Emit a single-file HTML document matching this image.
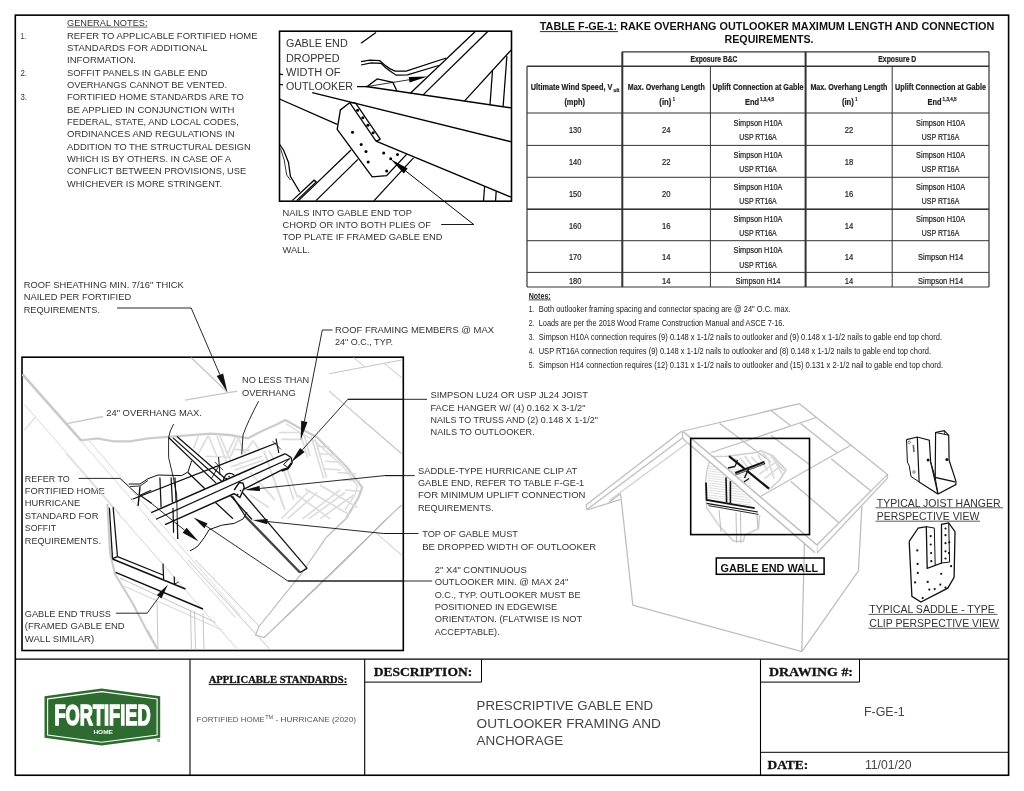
<!DOCTYPE html>
<html><head><meta charset="utf-8"><title>F-GE-1</title>
<style>
html,body{margin:0;padding:0;background:#fff;}
body{width:1024px;height:791px;overflow:hidden;font-family:"Liberation Sans",sans-serif;}
svg{display:block;will-change:transform;}
</style></head><body>
<svg width="1024" height="791" viewBox="0 0 1024 791">
<rect x="0" y="0" width="1024" height="791" fill="#fff"/>
<rect x="15.3" y="15.15" width="993.3" height="760.1" stroke="#000" stroke-width="1.6" fill="none"/>
<line x1="15.2" y1="659.2" x2="1008.6" y2="659.2" stroke="#000" stroke-width="1.2" />
<rect x="279.5" y="31.2" width="232" height="170" stroke="#000" stroke-width="1.6" fill="none"/>
<rect x="22" y="357.2" width="381.3" height="293.3" stroke="#000" stroke-width="1.6" fill="none"/>
<text x="67" y="26.3" font-family="Liberation Sans" font-size="9.2" font-weight="normal" fill="#333" text-anchor="start" textLength="80.5" lengthAdjust="spacingAndGlyphs" >GENERAL NOTES:</text>
<line x1="67" y1="27.1" x2="147.5" y2="27.1" stroke="#333" stroke-width="0.7" />
<text x="67" y="38.8" font-family="Liberation Sans" font-size="9.2" font-weight="normal" fill="#333" text-anchor="start" textLength="190.5" lengthAdjust="spacingAndGlyphs" >REFER TO APPLICABLE FORTIFIED HOME</text>
<text x="67" y="51.1" font-family="Liberation Sans" font-size="9.2" font-weight="normal" fill="#333" text-anchor="start" textLength="140.5" lengthAdjust="spacingAndGlyphs" >STANDARDS FOR ADDITIONAL</text>
<text x="67" y="63.4" font-family="Liberation Sans" font-size="9.2" font-weight="normal" fill="#333" text-anchor="start" textLength="69.0" lengthAdjust="spacingAndGlyphs" >INFORMATION.</text>
<text x="67" y="75.8" font-family="Liberation Sans" font-size="9.2" font-weight="normal" fill="#333" text-anchor="start" textLength="140.5" lengthAdjust="spacingAndGlyphs" >SOFFIT PANELS IN GABLE END</text>
<text x="67" y="88.1" font-family="Liberation Sans" font-size="9.2" font-weight="normal" fill="#333" text-anchor="start" textLength="160.0" lengthAdjust="spacingAndGlyphs" >OVERHANGS CANNOT BE VENTED.</text>
<text x="67" y="100.4" font-family="Liberation Sans" font-size="9.2" font-weight="normal" fill="#333" text-anchor="start" textLength="176.8" lengthAdjust="spacingAndGlyphs" >FORTIFIED HOME STANDARDS ARE TO</text>
<text x="67" y="112.8" font-family="Liberation Sans" font-size="9.2" font-weight="normal" fill="#333" text-anchor="start" textLength="167.5" lengthAdjust="spacingAndGlyphs" >BE APPLIED IN CONJUNCTION WITH</text>
<text x="67" y="125.1" font-family="Liberation Sans" font-size="9.2" font-weight="normal" fill="#333" text-anchor="start" textLength="171.8" lengthAdjust="spacingAndGlyphs" >FEDERAL, STATE, AND LOCAL CODES,</text>
<text x="67" y="137.4" font-family="Liberation Sans" font-size="9.2" font-weight="normal" fill="#333" text-anchor="start" textLength="167.5" lengthAdjust="spacingAndGlyphs" >ORDINANCES AND REGULATIONS IN</text>
<text x="67" y="149.8" font-family="Liberation Sans" font-size="9.2" font-weight="normal" fill="#333" text-anchor="start" textLength="183.8" lengthAdjust="spacingAndGlyphs" >ADDITION TO THE STRUCTURAL DESIGN</text>
<text x="67" y="162.1" font-family="Liberation Sans" font-size="9.2" font-weight="normal" fill="#333" text-anchor="start" textLength="164.2" lengthAdjust="spacingAndGlyphs" >WHICH IS BY OTHERS. IN CASE OF A</text>
<text x="67" y="174.4" font-family="Liberation Sans" font-size="9.2" font-weight="normal" fill="#333" text-anchor="start" textLength="179.2" lengthAdjust="spacingAndGlyphs" >CONFLICT BETWEEN PROVISIONS, USE</text>
<text x="67" y="186.7" font-family="Liberation Sans" font-size="9.2" font-weight="normal" fill="#333" text-anchor="start" textLength="155.0" lengthAdjust="spacingAndGlyphs" >WHICHEVER IS MORE STRINGENT.</text>
<text x="20.5" y="38.8" font-family="Liberation Sans" font-size="9.2" font-weight="normal" fill="#333" text-anchor="start" textLength="5.5" lengthAdjust="spacingAndGlyphs" >1.</text>
<text x="20.5" y="75.8" font-family="Liberation Sans" font-size="9.2" font-weight="normal" fill="#333" text-anchor="start" textLength="6.5" lengthAdjust="spacingAndGlyphs" >2.</text>
<text x="20.5" y="100.4" font-family="Liberation Sans" font-size="9.2" font-weight="normal" fill="#333" text-anchor="start" textLength="6.5" lengthAdjust="spacingAndGlyphs" >3.</text>
<text x="286" y="47.2" font-family="Liberation Sans" font-size="10" font-weight="normal" fill="#333" text-anchor="start" textLength="61.7" lengthAdjust="spacingAndGlyphs" >GABLE END</text>
<text x="286" y="61.5" font-family="Liberation Sans" font-size="10" font-weight="normal" fill="#333" text-anchor="start" textLength="53.7" lengthAdjust="spacingAndGlyphs" >DROPPED</text>
<text x="286" y="75.7" font-family="Liberation Sans" font-size="10" font-weight="normal" fill="#333" text-anchor="start" textLength="54.5" lengthAdjust="spacingAndGlyphs" >WIDTH OF</text>
<text x="286" y="90.0" font-family="Liberation Sans" font-size="10" font-weight="normal" fill="#333" text-anchor="start" textLength="67.0" lengthAdjust="spacingAndGlyphs" >OUTLOOKER</text>
<text x="282.5" y="215.5" font-family="Liberation Sans" font-size="9.2" font-weight="normal" fill="#333" text-anchor="start" textLength="129.5" lengthAdjust="spacingAndGlyphs" >NAILS INTO GABLE END TOP</text>
<text x="282.5" y="227.9" font-family="Liberation Sans" font-size="9.2" font-weight="normal" fill="#333" text-anchor="start" textLength="148.5" lengthAdjust="spacingAndGlyphs" >CHORD OR INTO BOTH PLIES OF</text>
<text x="282.5" y="240.4" font-family="Liberation Sans" font-size="9.2" font-weight="normal" fill="#333" text-anchor="start" textLength="160.0" lengthAdjust="spacingAndGlyphs" >TOP PLATE IF FRAMED GABLE END</text>
<text x="282.5" y="252.8" font-family="Liberation Sans" font-size="9.2" font-weight="normal" fill="#333" text-anchor="start" textLength="27.5" lengthAdjust="spacingAndGlyphs" >WALL.</text>
<text x="23.7" y="287.5" font-family="Liberation Sans" font-size="9.2" font-weight="normal" fill="#333" text-anchor="start" textLength="160.0" lengthAdjust="spacingAndGlyphs" >ROOF SHEATHING MIN. 7/16" THICK</text>
<text x="23.7" y="300.0" font-family="Liberation Sans" font-size="9.2" font-weight="normal" fill="#333" text-anchor="start" textLength="107.5" lengthAdjust="spacingAndGlyphs" >NAILED PER FORTIFIED</text>
<text x="23.7" y="312.5" font-family="Liberation Sans" font-size="9.2" font-weight="normal" fill="#333" text-anchor="start" textLength="76.3" lengthAdjust="spacingAndGlyphs" >REQUIREMENTS.</text>
<text x="335" y="332.5" font-family="Liberation Sans" font-size="9.2" font-weight="normal" fill="#333" text-anchor="start" textLength="159.0" lengthAdjust="spacingAndGlyphs" >ROOF FRAMING MEMBERS @ MAX</text>
<text x="335" y="345.0" font-family="Liberation Sans" font-size="9.2" font-weight="normal" fill="#333" text-anchor="start" textLength="58.0" lengthAdjust="spacingAndGlyphs" >24" O.C., TYP.</text>
<text x="106.2" y="415.7" font-family="Liberation Sans" font-size="9.2" font-weight="normal" fill="#333" text-anchor="start" textLength="95.8" lengthAdjust="spacingAndGlyphs" >24" OVERHANG MAX.</text>
<text x="242" y="383.2" font-family="Liberation Sans" font-size="9.2" font-weight="normal" fill="#333" text-anchor="start" textLength="67.2" lengthAdjust="spacingAndGlyphs" >NO LESS THAN</text>
<text x="242" y="395.7" font-family="Liberation Sans" font-size="9.2" font-weight="normal" fill="#333" text-anchor="start" textLength="53.7" lengthAdjust="spacingAndGlyphs" >OVERHANG</text>
<text x="24.8" y="481.5" font-family="Liberation Sans" font-size="9.2" font-weight="normal" fill="#333" text-anchor="start" textLength="44.9" lengthAdjust="spacingAndGlyphs" >REFER TO</text>
<text x="24.8" y="493.9" font-family="Liberation Sans" font-size="9.2" font-weight="normal" fill="#333" text-anchor="start" textLength="79.9" lengthAdjust="spacingAndGlyphs" >FORTIFIED HOME</text>
<text x="24.8" y="506.3" font-family="Liberation Sans" font-size="9.2" font-weight="normal" fill="#333" text-anchor="start" textLength="55.4" lengthAdjust="spacingAndGlyphs" >HURRICANE</text>
<text x="24.8" y="518.7" font-family="Liberation Sans" font-size="9.2" font-weight="normal" fill="#333" text-anchor="start" textLength="73.7" lengthAdjust="spacingAndGlyphs" >STANDARD FOR</text>
<text x="24.8" y="531.1" font-family="Liberation Sans" font-size="9.2" font-weight="normal" fill="#333" text-anchor="start" textLength="31.2" lengthAdjust="spacingAndGlyphs" >SOFFIT</text>
<text x="24.8" y="543.5" font-family="Liberation Sans" font-size="9.2" font-weight="normal" fill="#333" text-anchor="start" textLength="76.2" lengthAdjust="spacingAndGlyphs" >REQUIREMENTS.</text>
<text x="24.8" y="616.6" font-family="Liberation Sans" font-size="9.2" font-weight="normal" fill="#333" text-anchor="start" textLength="86.2" lengthAdjust="spacingAndGlyphs" >GABLE END TRUSS</text>
<text x="24.8" y="629.1" font-family="Liberation Sans" font-size="9.2" font-weight="normal" fill="#333" text-anchor="start" textLength="99.9" lengthAdjust="spacingAndGlyphs" >(FRAMED GABLE END</text>
<text x="24.8" y="641.6" font-family="Liberation Sans" font-size="9.2" font-weight="normal" fill="#333" text-anchor="start" textLength="69.4" lengthAdjust="spacingAndGlyphs" >WALL SIMILAR)</text>
<text x="430.5" y="398.2" font-family="Liberation Sans" font-size="9.2" font-weight="normal" fill="#333" text-anchor="start" textLength="157.5" lengthAdjust="spacingAndGlyphs" >SIMPSON LU24 OR USP JL24 JOIST</text>
<text x="430.5" y="410.6" font-family="Liberation Sans" font-size="9.2" font-weight="normal" fill="#333" text-anchor="start" textLength="155.0" lengthAdjust="spacingAndGlyphs" >FACE HANGER W/ (4) 0.162 X 3-1/2"</text>
<text x="430.5" y="423.0" font-family="Liberation Sans" font-size="9.2" font-weight="normal" fill="#333" text-anchor="start" textLength="167.5" lengthAdjust="spacingAndGlyphs" >NAILS TO TRUSS AND (2) 0.148 X 1-1/2"</text>
<text x="430.5" y="435.4" font-family="Liberation Sans" font-size="9.2" font-weight="normal" fill="#333" text-anchor="start" textLength="104.2" lengthAdjust="spacingAndGlyphs" >NAILS TO OUTLOOKER.</text>
<text x="418" y="473.7" font-family="Liberation Sans" font-size="9.2" font-weight="normal" fill="#333" text-anchor="start" textLength="159.2" lengthAdjust="spacingAndGlyphs" >SADDLE-TYPE HURRICANE CLIP AT</text>
<text x="418" y="486.0" font-family="Liberation Sans" font-size="9.2" font-weight="normal" fill="#333" text-anchor="start" textLength="166.0" lengthAdjust="spacingAndGlyphs" >GABLE END, REFER TO TABLE F-GE-1</text>
<text x="418" y="498.3" font-family="Liberation Sans" font-size="9.2" font-weight="normal" fill="#333" text-anchor="start" textLength="167.5" lengthAdjust="spacingAndGlyphs" >FOR MINIMUM UPLIFT CONNECTION</text>
<text x="418" y="510.6" font-family="Liberation Sans" font-size="9.2" font-weight="normal" fill="#333" text-anchor="start" textLength="75.5" lengthAdjust="spacingAndGlyphs" >REQUIREMENTS.</text>
<text x="422.2" y="537" font-family="Liberation Sans" font-size="9.2" font-weight="normal" fill="#333" text-anchor="start" textLength="95.8" lengthAdjust="spacingAndGlyphs" >TOP OF GABLE MUST</text>
<text x="422.2" y="549.5" font-family="Liberation Sans" font-size="9.2" font-weight="normal" fill="#333" text-anchor="start" textLength="173.8" lengthAdjust="spacingAndGlyphs" >BE DROPPED WIDTH OF OUTLOOKER</text>
<text x="434.7" y="573.0" font-family="Liberation Sans" font-size="9.2" font-weight="normal" fill="#333" text-anchor="start" textLength="92.0" lengthAdjust="spacingAndGlyphs" >2" X4" CONTINUOUS</text>
<text x="434.7" y="585.4" font-family="Liberation Sans" font-size="9.2" font-weight="normal" fill="#333" text-anchor="start" textLength="133.8" lengthAdjust="spacingAndGlyphs" >OUTLOOKER MIN. @ MAX 24"</text>
<text x="434.7" y="597.7" font-family="Liberation Sans" font-size="9.2" font-weight="normal" fill="#333" text-anchor="start" textLength="145.8" lengthAdjust="spacingAndGlyphs" >O.C., TYP. OUTLOOKER MUST BE</text>
<text x="434.7" y="610.0" font-family="Liberation Sans" font-size="9.2" font-weight="normal" fill="#333" text-anchor="start" textLength="122.5" lengthAdjust="spacingAndGlyphs" >POSITIONED IN EDGEWISE</text>
<text x="434.7" y="622.4" font-family="Liberation Sans" font-size="9.2" font-weight="normal" fill="#333" text-anchor="start" textLength="147.5" lengthAdjust="spacingAndGlyphs" >ORIENTATON. (FLATWISE IS NOT</text>
<text x="434.7" y="634.8" font-family="Liberation Sans" font-size="9.2" font-weight="normal" fill="#333" text-anchor="start" textLength="65.0" lengthAdjust="spacingAndGlyphs" >ACCEPTABLE).</text>
<text x="876.8" y="506.7" font-family="Liberation Sans" font-size="10.3" font-weight="normal" fill="#333" text-anchor="start" textLength="123.7" lengthAdjust="spacingAndGlyphs" >TYPICAL JOIST HANGER</text>
<line x1="875.5" y1="507.8" x2="1003" y2="507.8" stroke="#333" stroke-width="0.8" />
<text x="876.8" y="520" font-family="Liberation Sans" font-size="10.3" font-weight="normal" fill="#333" text-anchor="start" textLength="102.5" lengthAdjust="spacingAndGlyphs" >PERSPECTIVE VIEW</text>
<line x1="875.5" y1="521.2" x2="980" y2="521.2" stroke="#333" stroke-width="0.8" />
<text x="869.3" y="613.3" font-family="Liberation Sans" font-size="10.3" font-weight="normal" fill="#333" text-anchor="start" textLength="125.6" lengthAdjust="spacingAndGlyphs" >TYPICAL SADDLE - TYPE</text>
<line x1="868.5" y1="614.4" x2="997.5" y2="614.4" stroke="#333" stroke-width="0.8" />
<text x="869.3" y="627.2" font-family="Liberation Sans" font-size="10.3" font-weight="normal" fill="#333" text-anchor="start" textLength="129.7" lengthAdjust="spacingAndGlyphs" >CLIP PERSPECTIVE VIEW</text>
<line x1="868.5" y1="628.3" x2="999.5" y2="628.3" stroke="#333" stroke-width="0.8" />
<text x="767" y="30" font-family="Liberation Sans" font-size="10.2" font-weight="bold" fill="#111" text-anchor="middle" textLength="454.5" lengthAdjust="spacingAndGlyphs" >TABLE F-GE-1: RAKE OVERHANG OUTLOOKER MAXIMUM LENGTH AND CONNECTION</text>
<line x1="540" y1="31.6" x2="618" y2="31.6" stroke="#111" stroke-width="0.9" />
<text x="769" y="43" font-family="Liberation Sans" font-size="10.2" font-weight="bold" fill="#111" text-anchor="middle" textLength="89.0" lengthAdjust="spacingAndGlyphs" >REQUIREMENTS.</text>
<line x1="622.3" y1="51.8" x2="989" y2="51.8" stroke="#333" stroke-width="1.2" />
<line x1="527" y1="66.2" x2="989" y2="66.2" stroke="#333" stroke-width="1.4" />
<line x1="527" y1="113" x2="989" y2="113" stroke="#333" stroke-width="1.0" />
<line x1="527" y1="145.4" x2="989" y2="145.4" stroke="#333" stroke-width="1.0" />
<line x1="527" y1="177.3" x2="989" y2="177.3" stroke="#333" stroke-width="1.0" />
<line x1="527" y1="209.3" x2="989" y2="209.3" stroke="#333" stroke-width="1.0" />
<line x1="527" y1="240.7" x2="989" y2="240.7" stroke="#333" stroke-width="1.0" />
<line x1="527" y1="272.4" x2="989" y2="272.4" stroke="#333" stroke-width="1.0" />
<line x1="527" y1="287" x2="989" y2="287" stroke="#333" stroke-width="1.0" />
<line x1="527" y1="209.3" x2="989" y2="209.3" stroke="#333" stroke-width="1.6" />
<line x1="527" y1="66.2" x2="527" y2="287" stroke="#333" stroke-width="1.2" />
<line x1="989" y1="51.8" x2="989" y2="287" stroke="#333" stroke-width="1.2" />
<line x1="622.3" y1="51.8" x2="622.3" y2="287" stroke="#333" stroke-width="2.0" />
<line x1="805.6" y1="51.8" x2="805.6" y2="287" stroke="#333" stroke-width="2.0" />
<line x1="710.4" y1="66.2" x2="710.4" y2="287" stroke="#333" stroke-width="1.0" />
<line x1="892.2" y1="66.2" x2="892.2" y2="287" stroke="#333" stroke-width="1.0" />
<text x="713.95" y="62" font-family="Liberation Sans" font-size="8.6" font-weight="bold" fill="#222" text-anchor="middle" textLength="47.0" lengthAdjust="spacingAndGlyphs" stroke="#222" stroke-width="0.2">Exposure B&amp;C</text>
<text x="897.3" y="62" font-family="Liberation Sans" font-size="8.6" font-weight="bold" fill="#222" text-anchor="middle" textLength="38.0" lengthAdjust="spacingAndGlyphs" stroke="#222" stroke-width="0.2">Exposure D</text>
<text x="571.5" y="89.5" font-family="Liberation Sans" font-size="8.6" font-weight="bold" fill="#222" text-anchor="middle" textLength="81.7" lengthAdjust="spacingAndGlyphs" stroke="#222" stroke-width="0.2">Ultimate Wind Speed, V</text>
<text x="616.5" y="91.5" font-family="Liberation Sans" font-size="5.5" font-weight="bold" fill="#222" text-anchor="middle" textLength="6.0" lengthAdjust="spacingAndGlyphs" stroke="#222" stroke-width="0.2">ult</text>
<text x="574.65" y="104.5" font-family="Liberation Sans" font-size="8.6" font-weight="bold" fill="#222" text-anchor="middle" textLength="20.5" lengthAdjust="spacingAndGlyphs" stroke="#222" stroke-width="0.2">(mph)</text>
<text x="666.3499999999999" y="89.5" font-family="Liberation Sans" font-size="8.6" font-weight="bold" fill="#222" text-anchor="middle" textLength="77.0" lengthAdjust="spacingAndGlyphs" stroke="#222" stroke-width="0.2">Max. Overhang Length</text>
<text x="665.3499999999999" y="104.5" font-family="Liberation Sans" font-size="8.6" font-weight="bold" fill="#222" text-anchor="middle" textLength="12.0" lengthAdjust="spacingAndGlyphs" stroke="#222" stroke-width="0.2">(in)</text>
<text x="673.8499999999999" y="100.5" font-family="Liberation Sans" font-size="5.5" font-weight="bold" fill="#222" text-anchor="middle" textLength="2.2" lengthAdjust="spacingAndGlyphs" stroke="#222" stroke-width="0.2">1</text>
<text x="848.9000000000001" y="89.5" font-family="Liberation Sans" font-size="8.6" font-weight="bold" fill="#222" text-anchor="middle" textLength="77.0" lengthAdjust="spacingAndGlyphs" stroke="#222" stroke-width="0.2">Max. Overhang Length</text>
<text x="847.9000000000001" y="104.5" font-family="Liberation Sans" font-size="8.6" font-weight="bold" fill="#222" text-anchor="middle" textLength="12.0" lengthAdjust="spacingAndGlyphs" stroke="#222" stroke-width="0.2">(in)</text>
<text x="856.4000000000001" y="100.5" font-family="Liberation Sans" font-size="5.5" font-weight="bold" fill="#222" text-anchor="middle" textLength="2.2" lengthAdjust="spacingAndGlyphs" stroke="#222" stroke-width="0.2">1</text>
<text x="758.0" y="89.5" font-family="Liberation Sans" font-size="8.6" font-weight="bold" fill="#222" text-anchor="middle" textLength="91.0" lengthAdjust="spacingAndGlyphs" stroke="#222" stroke-width="0.2">Uplift Connection at Gable</text>
<text x="752.0" y="104.5" font-family="Liberation Sans" font-size="8.6" font-weight="bold" fill="#222" text-anchor="middle" textLength="14.0" lengthAdjust="spacingAndGlyphs" stroke="#222" stroke-width="0.2">End</text>
<text x="767.0" y="100.5" font-family="Liberation Sans" font-size="5.5" font-weight="bold" fill="#222" text-anchor="middle" textLength="14.0" lengthAdjust="spacingAndGlyphs" stroke="#222" stroke-width="0.2">1,3,4,5</text>
<text x="940.6" y="89.5" font-family="Liberation Sans" font-size="8.6" font-weight="bold" fill="#222" text-anchor="middle" textLength="91.0" lengthAdjust="spacingAndGlyphs" stroke="#222" stroke-width="0.2">Uplift Connection at Gable</text>
<text x="934.6" y="104.5" font-family="Liberation Sans" font-size="8.6" font-weight="bold" fill="#222" text-anchor="middle" textLength="14.0" lengthAdjust="spacingAndGlyphs" stroke="#222" stroke-width="0.2">End</text>
<text x="949.6" y="100.5" font-family="Liberation Sans" font-size="5.5" font-weight="bold" fill="#222" text-anchor="middle" textLength="14.0" lengthAdjust="spacingAndGlyphs" stroke="#222" stroke-width="0.2">1,3,4,5</text>
<text x="575.15" y="133.1" font-family="Liberation Sans" font-size="8.6" font-weight="normal" fill="#222" text-anchor="middle" textLength="12.5" lengthAdjust="spacingAndGlyphs" stroke="#222" stroke-width="0.2">130</text>
<text x="666.3499999999999" y="133.1" font-family="Liberation Sans" font-size="8.6" font-weight="normal" fill="#222" text-anchor="middle" textLength="8.5" lengthAdjust="spacingAndGlyphs" stroke="#222" stroke-width="0.2">24</text>
<text x="848.9000000000001" y="133.1" font-family="Liberation Sans" font-size="8.6" font-weight="normal" fill="#222" text-anchor="middle" textLength="8.5" lengthAdjust="spacingAndGlyphs" stroke="#222" stroke-width="0.2">22</text>
<text x="758.0" y="126.1" font-family="Liberation Sans" font-size="8.6" font-weight="normal" fill="#222" text-anchor="middle" textLength="49.0" lengthAdjust="spacingAndGlyphs" stroke="#222" stroke-width="0.2">Simpson H10A</text>
<text x="758.0" y="140.29999999999998" font-family="Liberation Sans" font-size="8.6" font-weight="normal" fill="#222" text-anchor="middle" textLength="37.5" lengthAdjust="spacingAndGlyphs" stroke="#222" stroke-width="0.2">USP RT16A</text>
<text x="940.6" y="126.1" font-family="Liberation Sans" font-size="8.6" font-weight="normal" fill="#222" text-anchor="middle" textLength="49.0" lengthAdjust="spacingAndGlyphs" stroke="#222" stroke-width="0.2">Simpson H10A</text>
<text x="940.6" y="140.29999999999998" font-family="Liberation Sans" font-size="8.6" font-weight="normal" fill="#222" text-anchor="middle" textLength="37.5" lengthAdjust="spacingAndGlyphs" stroke="#222" stroke-width="0.2">USP RT16A</text>
<text x="575.15" y="165.25000000000003" font-family="Liberation Sans" font-size="8.6" font-weight="normal" fill="#222" text-anchor="middle" textLength="12.5" lengthAdjust="spacingAndGlyphs" stroke="#222" stroke-width="0.2">140</text>
<text x="666.3499999999999" y="165.25000000000003" font-family="Liberation Sans" font-size="8.6" font-weight="normal" fill="#222" text-anchor="middle" textLength="8.5" lengthAdjust="spacingAndGlyphs" stroke="#222" stroke-width="0.2">22</text>
<text x="848.9000000000001" y="165.25000000000003" font-family="Liberation Sans" font-size="8.6" font-weight="normal" fill="#222" text-anchor="middle" textLength="8.5" lengthAdjust="spacingAndGlyphs" stroke="#222" stroke-width="0.2">18</text>
<text x="758.0" y="158.25000000000003" font-family="Liberation Sans" font-size="8.6" font-weight="normal" fill="#222" text-anchor="middle" textLength="49.0" lengthAdjust="spacingAndGlyphs" stroke="#222" stroke-width="0.2">Simpson H10A</text>
<text x="758.0" y="172.45000000000002" font-family="Liberation Sans" font-size="8.6" font-weight="normal" fill="#222" text-anchor="middle" textLength="37.5" lengthAdjust="spacingAndGlyphs" stroke="#222" stroke-width="0.2">USP RT16A</text>
<text x="940.6" y="158.25000000000003" font-family="Liberation Sans" font-size="8.6" font-weight="normal" fill="#222" text-anchor="middle" textLength="49.0" lengthAdjust="spacingAndGlyphs" stroke="#222" stroke-width="0.2">Simpson H10A</text>
<text x="940.6" y="172.45000000000002" font-family="Liberation Sans" font-size="8.6" font-weight="normal" fill="#222" text-anchor="middle" textLength="37.5" lengthAdjust="spacingAndGlyphs" stroke="#222" stroke-width="0.2">USP RT16A</text>
<text x="575.15" y="197.20000000000002" font-family="Liberation Sans" font-size="8.6" font-weight="normal" fill="#222" text-anchor="middle" textLength="12.5" lengthAdjust="spacingAndGlyphs" stroke="#222" stroke-width="0.2">150</text>
<text x="666.3499999999999" y="197.20000000000002" font-family="Liberation Sans" font-size="8.6" font-weight="normal" fill="#222" text-anchor="middle" textLength="8.5" lengthAdjust="spacingAndGlyphs" stroke="#222" stroke-width="0.2">20</text>
<text x="848.9000000000001" y="197.20000000000002" font-family="Liberation Sans" font-size="8.6" font-weight="normal" fill="#222" text-anchor="middle" textLength="8.5" lengthAdjust="spacingAndGlyphs" stroke="#222" stroke-width="0.2">16</text>
<text x="758.0" y="190.20000000000002" font-family="Liberation Sans" font-size="8.6" font-weight="normal" fill="#222" text-anchor="middle" textLength="49.0" lengthAdjust="spacingAndGlyphs" stroke="#222" stroke-width="0.2">Simpson H10A</text>
<text x="758.0" y="204.4" font-family="Liberation Sans" font-size="8.6" font-weight="normal" fill="#222" text-anchor="middle" textLength="37.5" lengthAdjust="spacingAndGlyphs" stroke="#222" stroke-width="0.2">USP RT16A</text>
<text x="940.6" y="190.20000000000002" font-family="Liberation Sans" font-size="8.6" font-weight="normal" fill="#222" text-anchor="middle" textLength="49.0" lengthAdjust="spacingAndGlyphs" stroke="#222" stroke-width="0.2">Simpson H10A</text>
<text x="940.6" y="204.4" font-family="Liberation Sans" font-size="8.6" font-weight="normal" fill="#222" text-anchor="middle" textLength="37.5" lengthAdjust="spacingAndGlyphs" stroke="#222" stroke-width="0.2">USP RT16A</text>
<text x="575.15" y="228.9" font-family="Liberation Sans" font-size="8.6" font-weight="normal" fill="#222" text-anchor="middle" textLength="12.5" lengthAdjust="spacingAndGlyphs" stroke="#222" stroke-width="0.2">160</text>
<text x="666.3499999999999" y="228.9" font-family="Liberation Sans" font-size="8.6" font-weight="normal" fill="#222" text-anchor="middle" textLength="8.5" lengthAdjust="spacingAndGlyphs" stroke="#222" stroke-width="0.2">16</text>
<text x="848.9000000000001" y="228.9" font-family="Liberation Sans" font-size="8.6" font-weight="normal" fill="#222" text-anchor="middle" textLength="8.5" lengthAdjust="spacingAndGlyphs" stroke="#222" stroke-width="0.2">14</text>
<text x="758.0" y="221.9" font-family="Liberation Sans" font-size="8.6" font-weight="normal" fill="#222" text-anchor="middle" textLength="49.0" lengthAdjust="spacingAndGlyphs" stroke="#222" stroke-width="0.2">Simpson H10A</text>
<text x="758.0" y="236.1" font-family="Liberation Sans" font-size="8.6" font-weight="normal" fill="#222" text-anchor="middle" textLength="37.5" lengthAdjust="spacingAndGlyphs" stroke="#222" stroke-width="0.2">USP RT16A</text>
<text x="940.6" y="221.9" font-family="Liberation Sans" font-size="8.6" font-weight="normal" fill="#222" text-anchor="middle" textLength="49.0" lengthAdjust="spacingAndGlyphs" stroke="#222" stroke-width="0.2">Simpson H10A</text>
<text x="940.6" y="236.1" font-family="Liberation Sans" font-size="8.6" font-weight="normal" fill="#222" text-anchor="middle" textLength="37.5" lengthAdjust="spacingAndGlyphs" stroke="#222" stroke-width="0.2">USP RT16A</text>
<text x="575.15" y="260.44999999999993" font-family="Liberation Sans" font-size="8.6" font-weight="normal" fill="#222" text-anchor="middle" textLength="12.5" lengthAdjust="spacingAndGlyphs" stroke="#222" stroke-width="0.2">170</text>
<text x="666.3499999999999" y="260.44999999999993" font-family="Liberation Sans" font-size="8.6" font-weight="normal" fill="#222" text-anchor="middle" textLength="8.5" lengthAdjust="spacingAndGlyphs" stroke="#222" stroke-width="0.2">14</text>
<text x="848.9000000000001" y="260.44999999999993" font-family="Liberation Sans" font-size="8.6" font-weight="normal" fill="#222" text-anchor="middle" textLength="8.5" lengthAdjust="spacingAndGlyphs" stroke="#222" stroke-width="0.2">14</text>
<text x="758.0" y="253.44999999999993" font-family="Liberation Sans" font-size="8.6" font-weight="normal" fill="#222" text-anchor="middle" textLength="49.0" lengthAdjust="spacingAndGlyphs" stroke="#222" stroke-width="0.2">Simpson H10A</text>
<text x="758.0" y="267.6499999999999" font-family="Liberation Sans" font-size="8.6" font-weight="normal" fill="#222" text-anchor="middle" textLength="37.5" lengthAdjust="spacingAndGlyphs" stroke="#222" stroke-width="0.2">USP RT16A</text>
<text x="940.6" y="260.44999999999993" font-family="Liberation Sans" font-size="8.6" font-weight="normal" fill="#222" text-anchor="middle" textLength="45.0" lengthAdjust="spacingAndGlyphs" stroke="#222" stroke-width="0.2">Simpson H14</text>
<text x="575.15" y="283.59999999999997" font-family="Liberation Sans" font-size="8.6" font-weight="normal" fill="#222" text-anchor="middle" textLength="12.5" lengthAdjust="spacingAndGlyphs" stroke="#222" stroke-width="0.2">180</text>
<text x="666.3499999999999" y="283.59999999999997" font-family="Liberation Sans" font-size="8.6" font-weight="normal" fill="#222" text-anchor="middle" textLength="8.5" lengthAdjust="spacingAndGlyphs" stroke="#222" stroke-width="0.2">14</text>
<text x="848.9000000000001" y="283.59999999999997" font-family="Liberation Sans" font-size="8.6" font-weight="normal" fill="#222" text-anchor="middle" textLength="8.5" lengthAdjust="spacingAndGlyphs" stroke="#222" stroke-width="0.2">14</text>
<text x="758.0" y="283.59999999999997" font-family="Liberation Sans" font-size="8.6" font-weight="normal" fill="#222" text-anchor="middle" textLength="45.0" lengthAdjust="spacingAndGlyphs" stroke="#222" stroke-width="0.2">Simpson H14</text>
<text x="940.6" y="283.59999999999997" font-family="Liberation Sans" font-size="8.6" font-weight="normal" fill="#222" text-anchor="middle" textLength="45.0" lengthAdjust="spacingAndGlyphs" stroke="#222" stroke-width="0.2">Simpson H14</text>
<text x="528.7" y="298.5" font-family="Liberation Sans" font-size="8.6" font-weight="bold" fill="#222" text-anchor="start" textLength="22.0" lengthAdjust="spacingAndGlyphs" >Notes:</text>
<line x1="528.7" y1="299.9" x2="550.7" y2="299.9" stroke="#222" stroke-width="0.8" />
<text x="528.7" y="311.8" font-family="Liberation Sans" font-size="8.6" font-weight="normal" fill="#222" text-anchor="start" textLength="5.5" lengthAdjust="spacingAndGlyphs" >1.</text>
<text x="538.7" y="311.8" font-family="Liberation Sans" font-size="8.6" font-weight="normal" fill="#222" text-anchor="start" textLength="251.8" lengthAdjust="spacingAndGlyphs" >Both outlooker framing spacing and connector spacing are @ 24" O.C. max.</text>
<text x="528.7" y="325.9" font-family="Liberation Sans" font-size="8.6" font-weight="normal" fill="#222" text-anchor="start" textLength="5.5" lengthAdjust="spacingAndGlyphs" >2.</text>
<text x="538.7" y="325.9" font-family="Liberation Sans" font-size="8.6" font-weight="normal" fill="#222" text-anchor="start" textLength="245.8" lengthAdjust="spacingAndGlyphs" >Loads are per the 2018 Wood Frame Construction Manual and ASCE 7-16.</text>
<text x="528.7" y="339.9" font-family="Liberation Sans" font-size="8.6" font-weight="normal" fill="#222" text-anchor="start" textLength="5.5" lengthAdjust="spacingAndGlyphs" >3.</text>
<text x="538.7" y="339.9" font-family="Liberation Sans" font-size="8.6" font-weight="normal" fill="#222" text-anchor="start" textLength="403.3" lengthAdjust="spacingAndGlyphs" >Simpson H10A connection requires (9) 0.148 x 1-1/2 nails to outlooker and (9) 0.148 x 1-1/2 nails to gable end top chord.</text>
<text x="528.7" y="354.0" font-family="Liberation Sans" font-size="8.6" font-weight="normal" fill="#222" text-anchor="start" textLength="5.5" lengthAdjust="spacingAndGlyphs" >4.</text>
<text x="538.7" y="354.0" font-family="Liberation Sans" font-size="8.6" font-weight="normal" fill="#222" text-anchor="start" textLength="392.3" lengthAdjust="spacingAndGlyphs" >USP RT16A connection requires (9) 0.148 x 1-1/2 nails to outlooker and (8) 0.148 x 1-1/2 nails to gable end top chord.</text>
<text x="528.7" y="368.0" font-family="Liberation Sans" font-size="8.6" font-weight="normal" fill="#222" text-anchor="start" textLength="5.5" lengthAdjust="spacingAndGlyphs" >5.</text>
<text x="538.7" y="368.0" font-family="Liberation Sans" font-size="8.6" font-weight="normal" fill="#222" text-anchor="start" textLength="404.3" lengthAdjust="spacingAndGlyphs" >Simpson H14 connection requires (12) 0.131 x 1-1/2 nails to outlooker and (15) 0.131 x 2-1/2 nail to gable end top chord.</text>
<clipPath id="cd"><rect x="279.5" y="31.2" width="232" height="170"/></clipPath>
<g clip-path="url(#cd)" stroke-linecap="butt">
<line x1="361" y1="43.2" x2="376" y2="32.4" stroke="#000" stroke-width="1.25" />
<path d="M361,61.7 L369.7,60.2 L379.7,60.7 L384.7,64.9 L389.7,68.6 L395,71.1 L406.2,71.1 L446.2,58" stroke="#000" stroke-width="1.25" fill="none" />
<path d="M361,65 L371,63 L381,63.4 L386,68 L390,71.1 L396.2,75.2 L407.5,74.9 L438.7,65.5" stroke="#000" stroke-width="1.25" fill="none" />
<line x1="357" y1="86.5" x2="367.2" y2="86.5" stroke="#000" stroke-width="1.25" />
<line x1="367.2" y1="86.5" x2="409" y2="79.8" stroke="#000" stroke-width="0.8" />
<polygon points="427.5,76.5 408.7,76.9 409.6,82.6" fill="#000"/>
<path d="M367.2,86.5 L377.2,79 L392.9,82.4 L396.9,91.1" stroke="#000" stroke-width="1.25" fill="none" />
<line x1="366" y1="86.5" x2="511.9" y2="108" stroke="#000" stroke-width="1.35" />
<line x1="410.6" y1="93" x2="475" y2="31.7" stroke="#000" stroke-width="1.25" />
<line x1="423.1" y1="94.9" x2="487.5" y2="31.7" stroke="#000" stroke-width="1.25" />
<line x1="464.4" y1="101.1" x2="511.9" y2="49.2" stroke="#000" stroke-width="1.25" />
<line x1="492.5" y1="70.5" x2="490" y2="104.9" stroke="#000" stroke-width="1.25" />
<line x1="506.9" y1="56.1" x2="503.1" y2="106.7" stroke="#000" stroke-width="1.25" />
<line x1="312.2" y1="92.7" x2="511.9" y2="141.9" stroke="#000" stroke-width="1.35" />
<line x1="279.5" y1="99" x2="337.2" y2="124.4" stroke="#000" stroke-width="1.35" />
<line x1="376" y1="141.2" x2="511.9" y2="197.5" stroke="#000" stroke-width="1.35" />
<path d="M349.7,102.7 L340.4,109.9 L337.2,129.4 L372.2,176.9 L386.6,175.7 L406.6,154.4" stroke="#000" stroke-width="1.35" fill="none" />
<line x1="349.7" y1="102.7" x2="376" y2="141.2" stroke="#000" stroke-width="1.25" />
<line x1="355.5" y1="102.9" x2="380.4" y2="139.4" stroke="#000" stroke-width="1.25" />
<line x1="376" y1="141.2" x2="380.4" y2="139.4" stroke="#000" stroke-width="1.25" />
<line x1="349.7" y1="102.7" x2="355.5" y2="102.9" stroke="#000" stroke-width="1.25" />
<circle cx="357.6" cy="110.3" r="1.5" fill="#000"/>
<circle cx="362.8" cy="117.8" r="1.5" fill="#000"/>
<circle cx="367.9" cy="125.3" r="1.5" fill="#000"/>
<circle cx="373.1" cy="132.8" r="1.5" fill="#000"/>
<circle cx="352.5" cy="132.2" r="1.5" fill="#000"/>
<circle cx="361.2" cy="144.4" r="1.5" fill="#000"/>
<circle cx="366" cy="151.5" r="1.5" fill="#000"/>
<circle cx="368.2" cy="161.9" r="1.5" fill="#000"/>
<circle cx="383.7" cy="153.1" r="1.5" fill="#000"/>
<circle cx="390.7" cy="158.7" r="1.5" fill="#000"/>
<circle cx="397.5" cy="154.4" r="1.5" fill="#000"/>
<circle cx="386.7" cy="170.9" r="1.5" fill="#000"/>
<line x1="351" y1="150" x2="298.5" y2="200.6" stroke="#000" stroke-width="1.25" />
<line x1="357.9" y1="159.4" x2="316" y2="200.6" stroke="#000" stroke-width="1.25" />
<path d="M292.2,200.6 L314.1,180.2 L316.2,181.9 L296.6,200.6" stroke="#000" stroke-width="1.25" fill="none" />
<line x1="413.5" y1="157.8" x2="373.9" y2="200.8" stroke="#000" stroke-width="1.25" />
<path d="M279.5,144.4 L283.5,150 L288.5,162.5 L290.4,176.2 L299.7,191.9" stroke="#000" stroke-width="1.25" fill="none" />
<path d="M280.5,148.5 L284.2,160 L286.7,175 L290.4,180" stroke="#000" stroke-width="0.8" fill="none" />
<line x1="484.6" y1="186.2" x2="483.5" y2="201" stroke="#000" stroke-width="1.25" />
<line x1="496.2" y1="191.2" x2="495.6" y2="201" stroke="#000" stroke-width="1.25" />
<line x1="279.5" y1="74.2" x2="283" y2="74.6" stroke="#000" stroke-width="1.25" />
<line x1="279.5" y1="84.5" x2="283" y2="84.9" stroke="#000" stroke-width="1.25" />
</g>
<line x1="441.2" y1="224.5" x2="473.7" y2="224.5" stroke="#000" stroke-width="0.9" />
<line x1="473.7" y1="224.5" x2="405.7344205914429" y2="171.0457686678176" stroke="#000" stroke-width="1.0" />
<polygon points="390.8,159.3 407.7,168.6 403.8,173.5" fill="#000"/>
<clipPath id="cm"><rect x="22" y="357.2" width="381.3" height="293.3"/></clipPath>
<g clip-path="url(#cm)">
<line x1="22.5" y1="374.4" x2="81.2" y2="440.6" stroke="#c9c9c9" stroke-width="2.6" />
<line x1="24.4" y1="404.4" x2="120" y2="514" stroke="#d4d4d4" stroke-width="0.9" />
<line x1="24.4" y1="430" x2="35.6" y2="416.9" stroke="#c6c6c6" stroke-width="0.9" />
<line x1="81.2" y1="441.2" x2="160" y2="532" stroke="#d4d4d4" stroke-width="0.9" />
<line x1="89.4" y1="441.2" x2="240" y2="615" stroke="#d4d4d4" stroke-width="0.9" />
<path d="M81.2,440.3 L97.5,438.4 L113.7,441.4 L130,441.4 L148,438.3 L168,436.9 L210.5,433.7 L230,435 L248,438.3 L262,431 L276,424.8 L285.4,420 L301,428.7 L317.2,437.5 L346,466.2 L362.2,487.5 L358.5,497.5 L346,518.7" stroke="#cccccc" stroke-width="2.3" fill="none" />
<path d="M346,518.7 L326,537.7 L300.5,575 L259.2,626.2 L255.5,635 L264.2,637.5 L345.5,560 L386.6,519 L401.6,505" stroke="#bdbdbd" stroke-width="1.2" fill="none" />
<line x1="66.9" y1="423.7" x2="103.1" y2="416.5" stroke="#c6c6c6" stroke-width="1.3" />
<line x1="184.9" y1="400.2" x2="237.4" y2="391.2" stroke="#c6c6c6" stroke-width="1.3" />
<line x1="191.1" y1="357.5" x2="227.4" y2="392.2" stroke="#c6c6c6" stroke-width="1.3" />
<line x1="329.1" y1="373.7" x2="401.6" y2="360" stroke="#c6c6c6" stroke-width="1.1" />
<line x1="353.5" y1="357.5" x2="364.7" y2="366.9" stroke="#c6c6c6" stroke-width="1.0" />
<line x1="384.7" y1="363.7" x2="401.6" y2="377.5" stroke="#c6c6c6" stroke-width="1.0" />
<line x1="329.1" y1="391.2" x2="401.6" y2="453.7" stroke="#c6c6c6" stroke-width="1.1" />
<line x1="362.2" y1="420" x2="401.6" y2="453.7" stroke="#c6c6c6" stroke-width="1.0" />
<line x1="376" y1="532.7" x2="401.6" y2="555.2" stroke="#c6c6c6" stroke-width="1.0" />
<line x1="386.6" y1="519" x2="284.7" y2="617.7" stroke="#b0b0b0" stroke-width="1.0" />
<line x1="344.7" y1="519" x2="326" y2="537.7" stroke="#c6c6c6" stroke-width="1.0" />
<path d="M286.2,423.8 L300.0,432.5 L315.0,441.2 L342.5,466.2 L357.5,486.2 L355.0,495.0 L345.0,510.0" stroke="#dcdcdc" stroke-width="1.4" fill="none" />
<path d="M278.8,432.5 L300.0,432.5" stroke="#dcdcdc" stroke-width="1.6" fill="none" />
<path d="M281.2,439.4 L302.5,439.4" stroke="#dcdcdc" stroke-width="1.6" fill="none" />
<path d="M317.5,446.2 L330.0,447.5" stroke="#dcdcdc" stroke-width="1.6" fill="none" />
<path d="M320.0,453.8 L336.2,455.0" stroke="#dcdcdc" stroke-width="1.6" fill="none" />
<path d="M325.0,461.2 L343.1,462.5" stroke="#dcdcdc" stroke-width="1.6" fill="none" />
<path d="M323.8,468.8 L341.2,470.0" stroke="#dcdcdc" stroke-width="1.6" fill="none" />
<path d="M311.2,436.2 L323.8,478.8" stroke="#dcdcdc" stroke-width="1.6" fill="none" />
<path d="M315.0,438.8 L326.5,477.5" stroke="#dcdcdc" stroke-width="1.6" fill="none" />
<path d="M300.0,432.5 L307.5,457.5" stroke="#dcdcdc" stroke-width="1.6" fill="none" />
<path d="M303.8,433.8 L310.0,456.2" stroke="#dcdcdc" stroke-width="1.6" fill="none" />
<path d="M281.2,518.8 L310.0,490.0" stroke="#dcdcdc" stroke-width="1.6" fill="none" />
<path d="M287.5,518.8 L317.5,492.5" stroke="#dcdcdc" stroke-width="1.6" fill="none" />
<path d="M302.5,518.8 L340.0,490.0" stroke="#dcdcdc" stroke-width="1.6" fill="none" />
<path d="M308.8,518.8 L345.0,492.5" stroke="#dcdcdc" stroke-width="1.6" fill="none" />
<path d="M320.0,518.8 L353.8,495.0" stroke="#dcdcdc" stroke-width="1.6" fill="none" />
<path d="M305.0,488.8 L350.0,515.0" stroke="#dcdcdc" stroke-width="1.6" fill="none" />
<path d="M320.0,485.0 L357.5,507.5" stroke="#dcdcdc" stroke-width="1.6" fill="none" />
<path d="M297.5,495.0 L330.0,518.8" stroke="#dcdcdc" stroke-width="1.6" fill="none" />
<path d="M263.8,451.2 L283.8,507.5" stroke="#dcdcdc" stroke-width="1.6" fill="none" />
<path d="M272.5,475.0 L285.0,510.0" stroke="#dcdcdc" stroke-width="1.6" fill="none" />
<path d="M283.8,470.0 L293.8,500.0" stroke="#dcdcdc" stroke-width="1.6" fill="none" />
<path d="M287.5,470.0 L297.5,497.5" stroke="#dcdcdc" stroke-width="1.6" fill="none" />
<path d="M337.5,472.5 L356.2,473.8" stroke="#dcdcdc" stroke-width="1.6" fill="none" />
<path d="M342.5,480.0 L360.0,481.2" stroke="#dcdcdc" stroke-width="1.6" fill="none" />
<path d="M345.0,490.0 L360.0,491.2" stroke="#dcdcdc" stroke-width="1.6" fill="none" />
<path d="M250.0,472.5 L275.0,500.0" stroke="#dcdcdc" stroke-width="1.6" fill="none" />
<path d="M250.0,495.0 L268.8,507.5" stroke="#dcdcdc" stroke-width="1.6" fill="none" />
<path d="M193.6,448.4 L198.5,435.7" stroke="#dcdcdc" stroke-width="1.6" fill="none" />
<path d="M198.5,453.3 L208.2,435.7" stroke="#dcdcdc" stroke-width="1.6" fill="none" />
<path d="M208.2,435.7 L217.0,456.2" stroke="#dcdcdc" stroke-width="1.6" fill="none" />
<path d="M217.0,435.7 L226.8,463.1" stroke="#dcdcdc" stroke-width="1.6" fill="none" />
<path d="M219.9,435.7 L230.7,461.1" stroke="#dcdcdc" stroke-width="1.6" fill="none" />
<path d="M227.8,453.3 L235.6,436.7" stroke="#dcdcdc" stroke-width="1.6" fill="none" />
<path d="M230.7,456.2 L238.5,437.7" stroke="#dcdcdc" stroke-width="1.6" fill="none" />
<path d="M238.5,437.7 L244.4,453.3" stroke="#dcdcdc" stroke-width="1.6" fill="none" />
<path d="M244.4,453.3 L253.1,440.6" stroke="#dcdcdc" stroke-width="1.6" fill="none" />
<path d="M253.1,440.6 L259.0,449.4" stroke="#dcdcdc" stroke-width="1.6" fill="none" />
<path d="M205.3,456.2 L230.7,457.2" stroke="#dcdcdc" stroke-width="1.6" fill="none" />
<path d="M234.6,449.4 L250.2,450.4" stroke="#dcdcdc" stroke-width="1.6" fill="none" />
<path d="M263.9,451.3 L267.8,461.1" stroke="#dcdcdc" stroke-width="1.6" fill="none" />
<path d="M268.8,450.4 L273.7,459.2" stroke="#dcdcdc" stroke-width="1.6" fill="none" />
<path d="M230.7,467.0 L261.9,456.2" stroke="#dcdcdc" stroke-width="1.6" fill="none" />
<path d="M234.6,469.9 L263.9,460.1" stroke="#dcdcdc" stroke-width="1.6" fill="none" />
<path d="M107.5,504 L110,552.7 L115,574.2 L132.5,603 L148,633 L158,650" stroke="#cccccc" stroke-width="2.2" fill="none" />
<line x1="120" y1="578" x2="215.5" y2="622.5" stroke="#c6c6c6" stroke-width="1.0" />
<line x1="124" y1="586" x2="222" y2="630" stroke="#d4d4d4" stroke-width="1.0" />
<line x1="157" y1="601.75" x2="158" y2="650" stroke="#c6c6c6" stroke-width="1.0" />
<line x1="190.5" y1="610.125" x2="191.5" y2="650" stroke="#c6c6c6" stroke-width="1.0" />
<line x1="194.5" y1="611.125" x2="195.5" y2="650" stroke="#c6c6c6" stroke-width="1.0" />
<line x1="203" y1="613.25" x2="204" y2="650" stroke="#c6c6c6" stroke-width="1.0" />
<line x1="148" y1="630" x2="158" y2="650" stroke="#c6c6c6" stroke-width="1.0" />
<line x1="66.2" y1="454" x2="238" y2="650" stroke="#d4d4d4" stroke-width="1.0" />
<line x1="188" y1="560" x2="270.5" y2="650" stroke="#c6c6c6" stroke-width="1.0" />
<line x1="195.5" y1="560" x2="259.2" y2="626.2" stroke="#c6c6c6" stroke-width="1.0" />
<line x1="148" y1="519" x2="235.5" y2="617.7" stroke="#d4d4d4" stroke-width="1.0" />
<line x1="133" y1="499" x2="276.5" y2="443" stroke="#111" stroke-width="1.25" />
<line x1="151.2" y1="512.7" x2="285.4" y2="453.7" stroke="#111" stroke-width="1.45" />
<line x1="156" y1="519.2" x2="289.8" y2="458.5" stroke="#111" stroke-width="1.25" />
<line x1="165" y1="524.7" x2="234.5" y2="493.5" stroke="#111" stroke-width="1.45" />
<line x1="243.5" y1="489.3" x2="282.9" y2="469.4" stroke="#111" stroke-width="1.45" />
<path d="M285.4,453.7 L291,457.5 L292.2,462.5 L288.5,468.1 L282.9,469.4" stroke="#111" stroke-width="1.25" fill="none" />
<path d="M288.5,468.1 L283.5,464.5 L289.8,458.5" stroke="#111" stroke-width="1.0" fill="none" />
<path d="M281.5,470.8 L287.5,468.6 L291.8,462.8" stroke="#111" stroke-width="2.2" fill="none" />
<line x1="276" y1="438.7" x2="278.8" y2="453" stroke="#111" stroke-width="1.2" />
<line x1="272.5" y1="441" x2="281" y2="449.5" stroke="#111" stroke-width="0.8" />
<line x1="218.6" y1="457" x2="219.9" y2="474.5" stroke="#111" stroke-width="1.0" />
<line x1="214.9" y1="462" x2="223" y2="470.2" stroke="#111" stroke-width="0.8" />
<line x1="218.6" y1="466.2" x2="211.7" y2="478.1" stroke="#111" stroke-width="0.9" />
<line x1="168.6" y1="437.5" x2="216.1" y2="483.1" stroke="#111" stroke-width="1.25" />
<line x1="173" y1="437.9" x2="221.7" y2="481.2" stroke="#111" stroke-width="1.25" />
<line x1="177" y1="436.5" x2="225.5" y2="478.7" stroke="#111" stroke-width="1.25" />
<line x1="229.9" y1="495" x2="252" y2="519.5" stroke="#111" stroke-width="1.25" />
<line x1="232.5" y1="496.2" x2="246.2" y2="517.5" stroke="#111" stroke-width="1.25" />
<line x1="245" y1="516" x2="300" y2="572.5" stroke="#444" stroke-width="2.4" />
<line x1="242.5" y1="492.5" x2="307.2" y2="568.4" stroke="#111" stroke-width="1.25" />
<line x1="300" y1="572.5" x2="307.2" y2="568.4" stroke="#111" stroke-width="1.25" />
<path d="M173.6,424.1 Q169.5,431 168.6,437.5 L168.6,457.5 L173,476.2 L176.7,495 L177.7,539" stroke="#111" stroke-width="0.9" fill="none" />
<path d="M258.6,401.2 Q248,421 243,435 L241.7,454.4" stroke="#111" stroke-width="0.9" fill="none" />
<path d="M191.7,460.6 L188,471.9 L181.7,475.6 L158,475 L148,478.7 L140,484 L128.7,484" stroke="#111" stroke-width="1.0" fill="none" />
<path d="M148,480.5 L140,486 L130,486.5" stroke="#111" stroke-width="0.9" fill="none" />
<line x1="188" y1="472.5" x2="204.9" y2="488.7" stroke="#111" stroke-width="1.25" />
<line x1="215.5" y1="502.5" x2="233" y2="518.7" stroke="#111" stroke-width="1.25" />
<line x1="159.9" y1="477.5" x2="161.1" y2="507.5" stroke="#111" stroke-width="1.25" />
<line x1="171.1" y1="477.5" x2="172.4" y2="502.5" stroke="#111" stroke-width="1.25" />
<line x1="174.9" y1="477.5" x2="176.1" y2="501.2" stroke="#111" stroke-width="1.25" />
<line x1="173" y1="508" x2="173.6" y2="532.7" stroke="#111" stroke-width="1.25" />
<path d="M223,481.2 Q225,474.5 228,473.7 Q231,472.8 234.2,475" stroke="#111" stroke-width="1.3" fill="none" />
<path d="M234.2,490 L239.2,482.5 L243,483.1 L244.2,487.5 L239.9,497.5 L234.2,493.7" stroke="#111" stroke-width="1.4" fill="none" />
<circle cx="240.5" cy="490.6" r="0.8" fill="#000"/>
<circle cx="237.7" cy="494.6" r="0.8" fill="#000"/>
<circle cx="229" cy="476.5" r="0.8" fill="#000"/>
<circle cx="226.5" cy="478.5" r="0.8" fill="#000"/>
<line x1="347.9" y1="399.3" x2="402.9" y2="399.3" stroke="#111" stroke-width="0.9" />
<line x1="347.9" y1="399.3" x2="302.37460916169476" y2="449.86598771495414" stroke="#111" stroke-width="0.9" />
<polygon points="291.0,462.5 300.1,447.9 304.6,451.9" fill="#111"/>
<line x1="384.7" y1="475.6" x2="402.9" y2="475.6" stroke="#111" stroke-width="0.9" />
<line x1="384.7" y1="475.6" x2="259.8210535261572" y2="488.46306744794947" stroke="#111" stroke-width="0.9" />
<polygon points="244.9,490.0 259.5,485.8 260.1,491.1" fill="#111"/>
<line x1="383.5" y1="533.5" x2="402.9" y2="533.5" stroke="#111" stroke-width="0.9" />
<line x1="383.5" y1="533.5" x2="267.4209787719509" y2="521.5376581177202" stroke="#111" stroke-width="0.9" />
<polygon points="252.5,520.0 267.7,518.9 267.1,524.2" fill="#111"/>
<line x1="287.9" y1="581" x2="402.9" y2="581" stroke="#111" stroke-width="0.9" />
<line x1="287.9" y1="581" x2="205.94616470621892" y2="525.872155284374" stroke="#111" stroke-width="0.9" />
<polygon points="193.5,517.5 207.5,523.5 204.4,528.2" fill="#111"/>
<line x1="148" y1="500.6" x2="184.601220685239" y2="530.1847811467643" stroke="#111" stroke-width="0.9" />
<polygon points="198.6,541.5 182.6,532.7 186.6,527.7" fill="#111"/>
<line x1="78.7" y1="478.4" x2="120" y2="478.4" stroke="#111" stroke-width="0.9" />
<line x1="120" y1="478.4" x2="138" y2="495" stroke="#111" stroke-width="0.9" />
<line x1="140" y1="486.5" x2="138.1" y2="505.9" stroke="#111" stroke-width="1.4" />
<line x1="140" y1="495.2" x2="151.2" y2="490.2" stroke="#111" stroke-width="1.25" />
<line x1="140" y1="495.2" x2="151.5" y2="503.2" stroke="#111" stroke-width="1.25" />
<circle cx="131.9" cy="499" r="0.6" fill="#000"/>
<line x1="109.4" y1="507.7" x2="112.5" y2="558.6" stroke="#111" stroke-width="1.25" />
<line x1="113.1" y1="507.1" x2="117.5" y2="556.7" stroke="#111" stroke-width="1.25" />
<line x1="112.5" y1="558.6" x2="117.5" y2="556.7" stroke="#111" stroke-width="1.25" />
<line x1="112.5" y1="559" x2="185.5" y2="589" stroke="#111" stroke-width="1.45" />
<line x1="117.5" y1="556.7" x2="163" y2="575" stroke="#111" stroke-width="1.25" />
<line x1="115.6" y1="572.4" x2="203" y2="609" stroke="#111" stroke-width="1.45" />
<line x1="163" y1="563.4" x2="163.6" y2="579" stroke="#111" stroke-width="1.25" />
<line x1="174.2" y1="576.5" x2="174.5" y2="584" stroke="#111" stroke-width="1.25" />
<line x1="174.5" y1="584" x2="178.6" y2="582.1" stroke="#111" stroke-width="0.9" />
<line x1="177.4" y1="521.5" x2="177.7" y2="539" stroke="#111" stroke-width="1.25" />
<path d="M189.9,550.9 Q195,548.5 198,545.9 L204.2,537.7 L209.2,529.6 L221.7,525.2 L234.2,523.4 L243,519 L247,512" stroke="#111" stroke-width="1.0" fill="none" />
<line x1="116" y1="613.2" x2="147.2" y2="613.2" stroke="#111" stroke-width="0.9" />
<line x1="147.2" y1="613.2" x2="159.17742453487432" y2="596.7310412645478" stroke="#111" stroke-width="0.9" />
<polygon points="168.0,584.6 161.4,598.4 156.9,595.1" fill="#111"/>
</g>
<line x1="117" y1="308" x2="191.2" y2="308" stroke="#111" stroke-width="0.9" />
<line x1="191.2" y1="308" x2="219.89552249030632" y2="374.7448340796628" stroke="#111" stroke-width="0.9" />
<polygon points="227.4,392.2 216.7,376.1 223.1,373.4" fill="#111"/>
<line x1="332.5" y1="330" x2="322.3" y2="330" stroke="#111" stroke-width="0.9" />
<line x1="322.3" y1="330" x2="304.3609950993312" y2="421.35604347562804" stroke="#111" stroke-width="0.9" />
<polygon points="300.7,440.0 301.2,420.7 307.5,422.0" fill="#111"/>
<line x1="427" y1="399.3" x2="347.9" y2="399.3" stroke="#111" stroke-width="0.9" />
<line x1="414.7" y1="475.6" x2="384.7" y2="475.6" stroke="#111" stroke-width="0.9" />
<line x1="418.5" y1="533.5" x2="383.5" y2="533.5" stroke="#111" stroke-width="0.9" />
<line x1="432.2" y1="581" x2="287.9" y2="581" stroke="#111" stroke-width="0.9" />
<line x1="681.2" y1="431.5" x2="799.4" y2="403.7" stroke="#bdbdbd" stroke-width="1.25" />
<line x1="799.4" y1="403.7" x2="887.5" y2="474.4" stroke="#bdbdbd" stroke-width="1.25" />
<line x1="887.5" y1="474.4" x2="816.9" y2="545" stroke="#bdbdbd" stroke-width="1.25" />
<line x1="887.5" y1="478.1" x2="816.9" y2="553.1" stroke="#bdbdbd" stroke-width="1.25" />
<line x1="887.5" y1="474.4" x2="887.5" y2="478.1" stroke="#bdbdbd" stroke-width="1.25" />
<line x1="816.9" y1="545" x2="816.9" y2="553.1" stroke="#bdbdbd" stroke-width="1.25" />
<line x1="681.2" y1="431.5" x2="586" y2="505" stroke="#bdbdbd" stroke-width="1.25" />
<line x1="682.5" y1="438.1" x2="587" y2="509.5" stroke="#bdbdbd" stroke-width="1.25" />
<line x1="687.5" y1="443.1" x2="610" y2="500" stroke="#d0d0d0" stroke-width="1.25" />
<line x1="682.5" y1="432" x2="682.5" y2="438.1" stroke="#bdbdbd" stroke-width="1.25" />
<line x1="682.5" y1="438.1" x2="687.5" y2="443.1" stroke="#bdbdbd" stroke-width="1.25" />
<line x1="586" y1="505" x2="587" y2="510" stroke="#bdbdbd" stroke-width="1.25" />
<line x1="587" y1="510" x2="620.6" y2="499.4" stroke="#bdbdbd" stroke-width="1.25" />
<line x1="608.7" y1="502.5" x2="620.6" y2="493.7" stroke="#bdbdbd" stroke-width="1.25" />
<line x1="683" y1="431.5" x2="816.9" y2="545" stroke="#bdbdbd" stroke-width="1.25" />
<line x1="688" y1="443" x2="815" y2="552.5" stroke="#bdbdbd" stroke-width="1.25" />
<line x1="719.7" y1="423.5" x2="742.2" y2="440.6" stroke="#bdbdbd" stroke-width="1.25" />
<line x1="771" y1="410.6" x2="790.4" y2="425.6" stroke="#bdbdbd" stroke-width="1.25" />
<line x1="711" y1="452.5" x2="816.2" y2="417.5" stroke="#bdbdbd" stroke-width="1.25" />
<line x1="771" y1="435.6" x2="809.4" y2="464.4" stroke="#bdbdbd" stroke-width="1.25" />
<line x1="800.6" y1="423.5" x2="837.5" y2="453.1" stroke="#bdbdbd" stroke-width="1.25" />
<line x1="851.2" y1="445" x2="761" y2="496.2" stroke="#bdbdbd" stroke-width="1.25" />
<line x1="831.2" y1="458.7" x2="871.2" y2="491.2" stroke="#bdbdbd" stroke-width="1.25" />
<line x1="790.6" y1="481.2" x2="838.7" y2="522.5" stroke="#bdbdbd" stroke-width="1.25" />
<line x1="742.2" y1="440.6" x2="771" y2="462" stroke="#bdbdbd" stroke-width="1.25" />
<line x1="620.6" y1="493.7" x2="632.8" y2="605.1" stroke="#bdbdbd" stroke-width="1.25" />
<line x1="632.8" y1="605.1" x2="801.8" y2="651.6" stroke="#bdbdbd" stroke-width="1.25" />
<line x1="804.4" y1="543.7" x2="801.8" y2="651.6" stroke="#bdbdbd" stroke-width="1.25" />
<line x1="801.8" y1="651.6" x2="858.4" y2="570.9" stroke="#bdbdbd" stroke-width="1.25" />
<line x1="861.9" y1="506.2" x2="858.4" y2="570.9" stroke="#bdbdbd" stroke-width="1.25" />
<path d="M711,456.5 L727,456.3 L756,452.5 L761,450.6 L773,456 L786,470 L779.7,480 L768.5,490" stroke="#cfcfcf" stroke-width="1.6" fill="none" />
<path d="M711,456.5 L707,470 L705.5,482 L706.6,507.5 L718.5,525 L733.5,541.2 L743.5,541.2 L744.7,535 L758.5,528.7 L759.7,515" stroke="#cfcfcf" stroke-width="1.4" fill="none" />
<line x1="707.5" y1="466.0" x2="751" y2="471.5" stroke="#d2d2d2" stroke-width="0.7" />
<line x1="707.5" y1="468.4" x2="751" y2="473.9" stroke="#d2d2d2" stroke-width="0.7" />
<line x1="707.5" y1="470.8" x2="751" y2="476.3" stroke="#d2d2d2" stroke-width="0.7" />
<line x1="707.5" y1="473.2" x2="751" y2="478.7" stroke="#d2d2d2" stroke-width="0.7" />
<line x1="707.5" y1="475.6" x2="751" y2="481.1" stroke="#d2d2d2" stroke-width="0.7" />
<line x1="707.5" y1="478.0" x2="751" y2="483.5" stroke="#d2d2d2" stroke-width="0.7" />
<line x1="707.5" y1="480.4" x2="751" y2="485.9" stroke="#d2d2d2" stroke-width="0.7" />
<line x1="707.5" y1="482.8" x2="751" y2="488.3" stroke="#d2d2d2" stroke-width="0.7" />
<line x1="707.5" y1="485.2" x2="751" y2="490.7" stroke="#d2d2d2" stroke-width="0.7" />
<line x1="707.5" y1="487.6" x2="751" y2="493.1" stroke="#d2d2d2" stroke-width="0.7" />
<line x1="707.5" y1="490.0" x2="751" y2="495.5" stroke="#d2d2d2" stroke-width="0.7" />
<line x1="707.5" y1="492.4" x2="751" y2="497.9" stroke="#d2d2d2" stroke-width="0.7" />
<line x1="707.5" y1="494.8" x2="751" y2="500.3" stroke="#d2d2d2" stroke-width="0.7" />
<line x1="707.5" y1="497.2" x2="751" y2="502.7" stroke="#d2d2d2" stroke-width="0.7" />
<line x1="707.5" y1="499.6" x2="751" y2="505.1" stroke="#d2d2d2" stroke-width="0.7" />
<line x1="739.8" y1="457.7" x2="748.0" y2="467.5" stroke="#dadada" stroke-width="1.6" />
<line x1="744.7" y1="456.1" x2="754.5" y2="469.2" stroke="#dadada" stroke-width="1.6" />
<line x1="757.8" y1="454.5" x2="767.6" y2="470.8" stroke="#dadada" stroke-width="1.6" />
<line x1="767.6" y1="457.7" x2="774.1" y2="478.9" stroke="#dadada" stroke-width="1.6" />
<line x1="770.8" y1="456.1" x2="783.9" y2="470.8" stroke="#dadada" stroke-width="1.6" />
<line x1="764.3" y1="478.9" x2="780.6" y2="465.9" stroke="#dadada" stroke-width="1.6" />
<line x1="759.4" y1="474.0" x2="777.4" y2="461.0" stroke="#dadada" stroke-width="1.6" />
<line x1="751.3" y1="456.9" x2="759.4" y2="465.1" stroke="#dadada" stroke-width="1.6" />
<line x1="762.7" y1="452.8" x2="770.8" y2="462.6" stroke="#dadada" stroke-width="1.6" />
<line x1="774.1" y1="459.4" x2="782.2" y2="474.0" stroke="#dadada" stroke-width="1.6" />
<line x1="734.9" y1="458.5" x2="741.5" y2="465.1" stroke="#dadada" stroke-width="1.6" />
<line x1="719" y1="510" x2="721" y2="532" stroke="#bdbdbd" stroke-width="1.0" />
<line x1="736" y1="512.5" x2="736.6" y2="543" stroke="#bdbdbd" stroke-width="1.0" />
<line x1="740.4" y1="512.5" x2="741" y2="543" stroke="#bdbdbd" stroke-width="1.0" />
<line x1="757" y1="515" x2="758" y2="528" stroke="#bdbdbd" stroke-width="1.2" />
<polygon points="683,431.5 816.9,545 816.9,553 815,552.5 688,443" fill="#fff"/>
<line x1="683" y1="431.5" x2="816.9" y2="545" stroke="#bdbdbd" stroke-width="1.25" />
<line x1="688" y1="443" x2="815" y2="552.5" stroke="#bdbdbd" stroke-width="1.25" />
<path d="M706,482.5 L706.6,500 L754.7,508.1" stroke="#111" stroke-width="1.8" fill="none" />
<line x1="706.6" y1="503.3" x2="757.9" y2="512" stroke="#111" stroke-width="1.2" />
<line x1="708.5" y1="505.6" x2="758.5" y2="514.4" stroke="#111" stroke-width="0.9" />
<line x1="726" y1="477.5" x2="726.6" y2="502.5" stroke="#111" stroke-width="1.6" />
<line x1="730.4" y1="481.2" x2="730.4" y2="503.1" stroke="#111" stroke-width="1.6" />
<line x1="729" y1="456.2" x2="769" y2="488.7" stroke="#111" stroke-width="2.2" />
<line x1="735.4" y1="473.7" x2="764.7" y2="462.5" stroke="#111" stroke-width="3.4" />
<line x1="736" y1="474.3" x2="764" y2="463.4" stroke="#ddd" stroke-width="0.7" />
<line x1="744.5" y1="478" x2="748.5" y2="469" stroke="#111" stroke-width="1.4" />
<line x1="728" y1="468" x2="735" y2="466.5" stroke="#111" stroke-width="1.4" />
<line x1="735" y1="466.5" x2="737.5" y2="460" stroke="#111" stroke-width="1.2" />
<line x1="744" y1="482" x2="749" y2="478.5" stroke="#111" stroke-width="1.2" />
<rect x="690.7" y="438.4" width="118.8" height="96.2" stroke="#000" stroke-width="1.6" fill="none"/>
<rect x="716.3" y="558" width="107.8" height="16.3" stroke="#000" stroke-width="1.5" fill="none"/>
<text x="720.5" y="571.6" font-family="Liberation Sans" font-size="10.4" font-weight="bold" fill="#111" text-anchor="start" textLength="97.7" lengthAdjust="spacingAndGlyphs" >GABLE END WALL</text>
<line x1="804.4" y1="560" x2="804.2" y2="573" stroke="#d0d0d0" stroke-width="0.8" />
<path d="M906.5,439.6 L907.4,462.1 L909.2,465.7 L911.0,476.5 L919.1,481.9" stroke="#111" stroke-width="1.0" fill="none" />
<path d="M906.5,439.6 L917.3,437.0 L929.3,440.2 L930.7,462.1 L937.9,493.6" stroke="#111" stroke-width="1.2" fill="none" />
<path d="M917.3,437.0 L919.1,481.9 L937.9,494.1 L955.9,484.6 L955.9,481.0 L949.1,460.3 L948.7,435.2 L944.2,430.7 L935.6,432.5 L935.2,477.4 L955.0,481.9" stroke="#111" stroke-width="1.2" fill="none" />
<path d="M935.6,432.5 L948.7,435.2" stroke="#111" stroke-width="1.0" fill="none" />
<path d="M944.2,430.7 L944.6,434.3" stroke="#111" stroke-width="0.8" fill="none" />
<path d="M930.7,462.1 L935.2,477.4" stroke="#111" stroke-width="1.0" fill="none" />
<path d="M935.2,477.4 L937.9,493.6" stroke="#111" stroke-width="1.0" fill="none" />
<circle cx="928.1" cy="460.0" r="1.5" fill="#111"/>
<circle cx="946.9" cy="459.4" r="1.5" fill="#111"/>
<circle cx="909.2" cy="442.3" r="1.3" fill="none" stroke="#333" stroke-width="0.6"/>
<circle cx="914.0" cy="472.0" r="1.3" fill="none" stroke="#333" stroke-width="0.6"/>
<path d="M913.3,445.0 L914.0,452.2" stroke="#666" stroke-width="1.6" fill="none" />
<path d="M909.2,541.4 L918.2,528.0 L926.3,526.7 L927.2,568.4 L941.5,563.0 L941.5,524.4 L948.7,522.9 L955.0,531.6 L954.1,577.4 L947.8,588.2 L920.9,602.0 L911.9,596.3 L909.2,541.4" stroke="#111" stroke-width="1.3" fill="none" />
<path d="M926.3,526.7 L934.3,528.0 L935.2,565.3" stroke="#111" stroke-width="1.0" fill="none" />
<path d="M948.7,522.9 L949.6,562.1 L941.5,563.0" stroke="#111" stroke-width="1.0" fill="none" />
<circle cx="930.7" cy="536.1" r="1.1" fill="#111"/>
<circle cx="930.7" cy="544.5" r="1.1" fill="#111"/>
<circle cx="931.1" cy="553.1" r="1.1" fill="#111"/>
<circle cx="931.3" cy="561.2" r="1.1" fill="#111"/>
<circle cx="945.5" cy="528.5" r="1.1" fill="#111"/>
<circle cx="945.5" cy="535.2" r="1.1" fill="#111"/>
<circle cx="945.5" cy="543.2" r="1.1" fill="#111"/>
<circle cx="945.5" cy="551.3" r="1.1" fill="#111"/>
<circle cx="945.5" cy="558.5" r="1.1" fill="#111"/>
<circle cx="949.3" cy="542.3" r="1.1" fill="#111"/>
<circle cx="948.9" cy="553.1" r="1.1" fill="#111"/>
<circle cx="917.3" cy="550.4" r="1.1" fill="#111"/>
<circle cx="917.6" cy="563.9" r="1.1" fill="#111"/>
<circle cx="917.8" cy="572.9" r="1.1" fill="#111"/>
<circle cx="915.1" cy="582.4" r="1.1" fill="#111"/>
<circle cx="927.7" cy="581.9" r="1.1" fill="#111"/>
<circle cx="929.3" cy="589.6" r="1.1" fill="#111"/>
<circle cx="934.7" cy="589.1" r="1.1" fill="#111"/>
<circle cx="940.3" cy="584.6" r="1.1" fill="#111"/>
<circle cx="941.2" cy="573.8" r="1.1" fill="#111"/>
<circle cx="945.5" cy="587.6" r="1.1" fill="#111"/>
<circle cx="951.1" cy="566.2" r="1.1" fill="#111"/>
<circle cx="922.7" cy="598.1" r="1.1" fill="#111"/>
<line x1="190" y1="659.2" x2="190" y2="775.2" stroke="#000" stroke-width="1.1" />
<line x1="364.7" y1="659.2" x2="364.7" y2="775.2" stroke="#000" stroke-width="1.1" />
<line x1="760.5" y1="659.2" x2="760.5" y2="775.2" stroke="#000" stroke-width="1.1" />
<line x1="364.7" y1="682.1" x2="481.5" y2="682.1" stroke="#000" stroke-width="1.0" />
<line x1="481.5" y1="659.2" x2="481.5" y2="682.1" stroke="#000" stroke-width="1.0" />
<line x1="760.5" y1="682.1" x2="859.5" y2="682.1" stroke="#000" stroke-width="1.0" />
<line x1="859.5" y1="659.2" x2="859.5" y2="682.1" stroke="#000" stroke-width="1.0" />
<line x1="760.5" y1="752.3" x2="1008.6" y2="752.3" stroke="#000" stroke-width="1.0" />
<text x="208.7" y="682.8" font-family="Liberation Serif" font-size="10.6" font-weight="bold" fill="#111" text-anchor="start" textLength="138.5" lengthAdjust="spacingAndGlyphs" stroke="#111" stroke-width="0.3">APPLICABLE STANDARDS:</text>
<line x1="208.7" y1="684.6" x2="347.2" y2="684.6" stroke="#111" stroke-width="1.0" />
<text x="196.6" y="721.9" font-family="Liberation Sans" font-size="8.1" font-weight="normal" fill="#555" text-anchor="start" textLength="68.0" lengthAdjust="spacingAndGlyphs" >FORTIFIED HOME</text>
<text x="265.2" y="718.6" font-family="Liberation Sans" font-size="4.8" font-weight="normal" fill="#555" text-anchor="start" textLength="8.0" lengthAdjust="spacingAndGlyphs" >TM</text>
<text x="275.5" y="721.9" font-family="Liberation Sans" font-size="8.1" font-weight="normal" fill="#555" text-anchor="start" textLength="80.5" lengthAdjust="spacingAndGlyphs" >- HURRICANE (2020)</text>
<text x="373.7" y="676" font-family="Liberation Serif" font-size="13" font-weight="bold" fill="#111" text-anchor="start" textLength="98.5" lengthAdjust="spacingAndGlyphs" stroke="#111" stroke-width="0.3">DESCRIPTION:</text>
<text x="769" y="676.1" font-family="Liberation Serif" font-size="13" font-weight="bold" fill="#111" text-anchor="start" textLength="84.0" lengthAdjust="spacingAndGlyphs" stroke="#111" stroke-width="0.3">DRAWING #:</text>
<text x="767.5" y="768.8" font-family="Liberation Serif" font-size="13" font-weight="bold" fill="#111" text-anchor="start" textLength="40.7" lengthAdjust="spacingAndGlyphs" stroke="#111" stroke-width="0.3">DATE:</text>
<text x="476.6" y="710" font-family="Liberation Sans" font-size="13.2" font-weight="normal" fill="#444" text-anchor="start" textLength="176.5" lengthAdjust="spacingAndGlyphs" >PRESCRIPTIVE GABLE END</text>
<text x="476.6" y="728.1" font-family="Liberation Sans" font-size="13.2" font-weight="normal" fill="#444" text-anchor="start" textLength="184.4" lengthAdjust="spacingAndGlyphs" >OUTLOOKER FRAMING AND</text>
<text x="476.6" y="745.3" font-family="Liberation Sans" font-size="13.2" font-weight="normal" fill="#444" text-anchor="start" textLength="86.5" lengthAdjust="spacingAndGlyphs" >ANCHORAGE</text>
<text x="864" y="715.9" font-family="Liberation Sans" font-size="13.2" font-weight="normal" fill="#444" text-anchor="start" textLength="40.7" lengthAdjust="spacingAndGlyphs" >F-GE-1</text>
<text x="864.9" y="768.8" font-family="Liberation Sans" font-size="13.2" font-weight="normal" fill="#444" text-anchor="start" textLength="46.6" lengthAdjust="spacingAndGlyphs" >11/01/20</text>
<polygon points="44.5,696.2 101.6,688.4 160.2,696.2 160.2,737.7 101.6,745.5 44.5,737.7" fill="#2e6b30"/>
<polygon points="47.6,698.9 101.6,691.6 157.1,698.9 157.1,735 101.6,742.3 47.6,735" fill="none" stroke="#fff" stroke-width="1.1"/>
<text x="54.5" y="725.2" font-family="Liberation Sans" font-size="29.2" font-weight="bold" fill="#fff" text-anchor="start" textLength="96.1" lengthAdjust="spacingAndGlyphs" stroke="#fff" stroke-width="1.6" stroke-linejoin="miter">FORTIFIED</text>
<text x="93.4" y="733.8" font-family="Liberation Sans" font-size="6" font-weight="bold" fill="#fff" text-anchor="start" textLength="19.5" lengthAdjust="spacingAndGlyphs" >HOME</text>
<text x="156.5" y="742.3" font-family="Liberation Sans" font-size="2.6" font-weight="bold" fill="#2e6b30" text-anchor="start" textLength="3.6" lengthAdjust="spacingAndGlyphs" >TM</text>
</svg>
</body></html>
